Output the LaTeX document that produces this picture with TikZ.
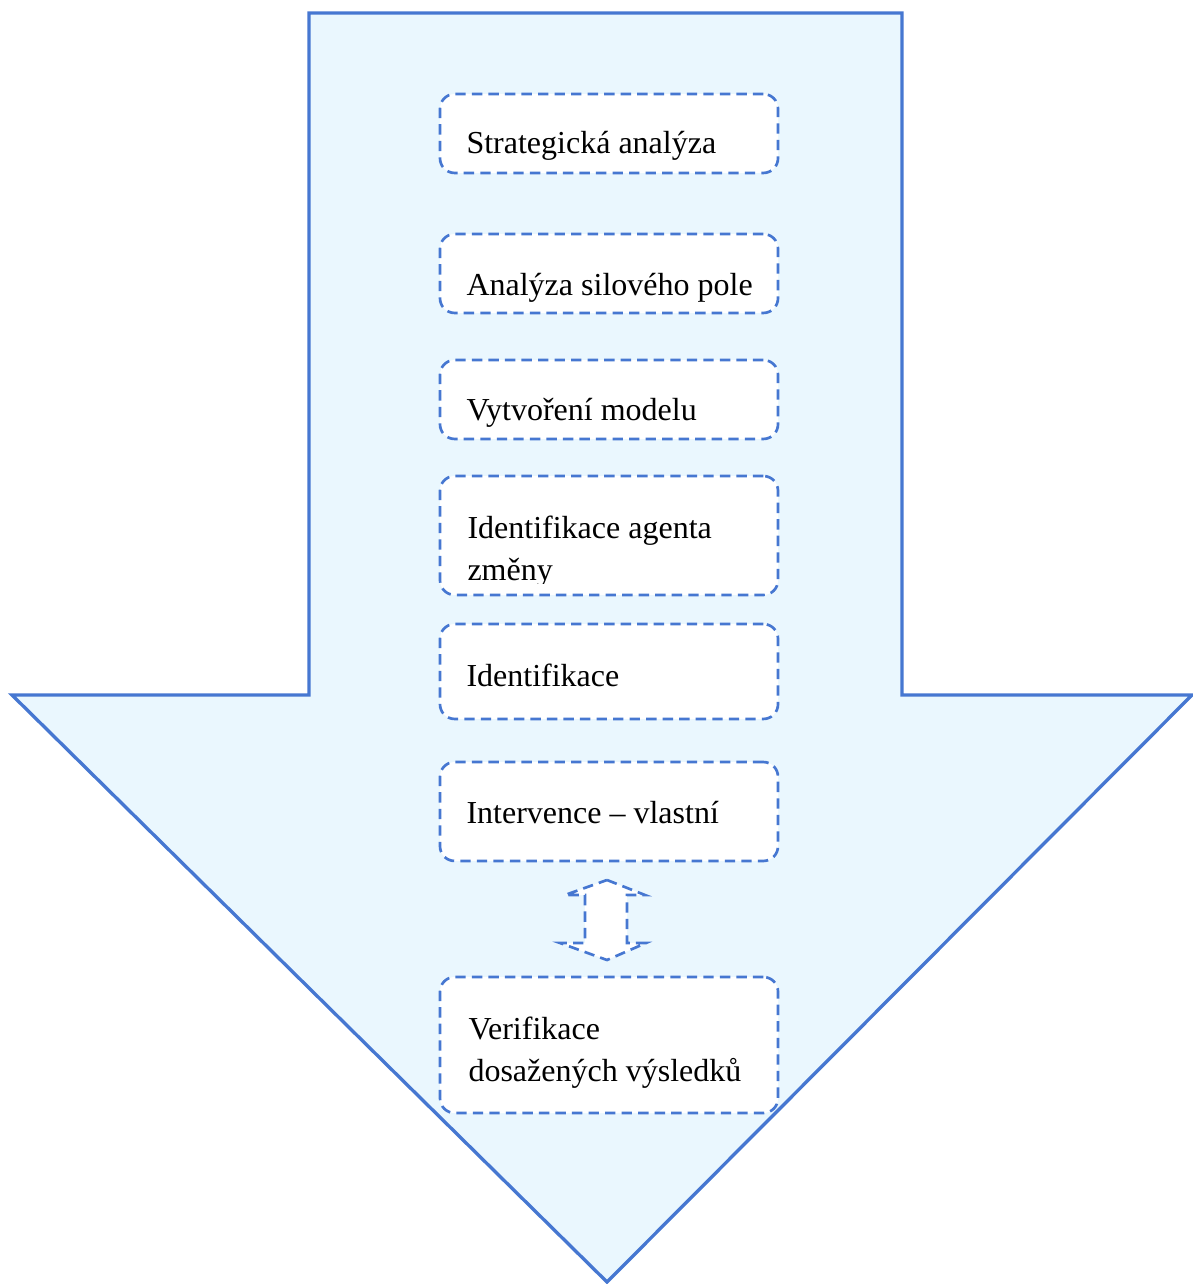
\documentclass[tikz,border=0pt]{standalone}
\usepackage{fontspec}
\setmainfont{Liberation Serif}
\usetikzlibrary{positioning}
\definecolor{arrowblue}{HTML}{4677D1}
\definecolor{arrowfill}{HTML}{EAF7FE}

\begin{document}
\begin{tikzpicture}[x=0.375pt, y=-0.375pt,
    stepbox/.style={rectangle, draw=arrowblue, fill=white, dash pattern=on 3.9pt off 2.3pt, line width=1pt, rounded corners=5.5pt, minimum width=126.75pt, inner sep=0pt},
    steptext/.style={anchor=base west, inner sep=0pt, font=\fontsize{12}{15.75}\selectfont, align=left}]
    \useasboundingbox (0,0) rectangle (1192,1284);

    % Big arrow
    \draw[draw=arrowblue, fill=arrowfill, line width=1.25pt]
        (309,13) -- (902,13) -- (902,695) -- (1192,695) -- (607,1282) -- (12,695) -- (309,695) -- cycle;

    % Steps (base anchor of a two-line text = last line)
    \node[stepbox, minimum height=29.6pt] (strat) at (609,133.5) {};
    \node[steptext] (strattxt) at (466,154) {Strategická analýza};

    \node[stepbox, minimum height=29.6pt] (pole) at (609,273.5) {};
    \node[steptext] (poletxt) at (466,295) {Analýza silového pole};

    \node[stepbox, minimum height=29.6pt] (model) at (609,399.5) {};
    \node[steptext] (modeltxt) at (466,420) {Vytvoření modelu};

    \node[stepbox, minimum height=44.6pt] (agent) at (609,535.5) {};
    \begin{scope}
        \clip (440,476) rectangle (778,583);
        \node[steptext] (agenttxt) at (467,580) {Identifikace agenta\\změny};
    \end{scope}

    \node[stepbox, minimum height=35.6pt] (ident) at (609,671.5) {};
    \node[steptext] (identtxt) at (466,686) {Identifikace};

    \node[stepbox, minimum height=37.1pt] (interv) at (609,811.5) {};
    \node[steptext] (intervtxt) at (466,823) {Intervence – vlastní};

    \node[stepbox, minimum height=51pt] (verif) at (609,1045) {};
    \node[steptext] (veriftxt) at (468,1081) {Verifikace\\dosažených výsledků};

    % Double arrow
    \draw[draw=arrowblue, fill=white, dash pattern=on 3.9pt off 2.3pt, line width=1pt]
        (607,880) -- (645,895) -- (627,895) -- (627,943) -- (646,943) -- (607,960)
        -- (560,943) -- (585,943) -- (585,895) -- (565,895) -- cycle;
\end{tikzpicture}
\end{document}
